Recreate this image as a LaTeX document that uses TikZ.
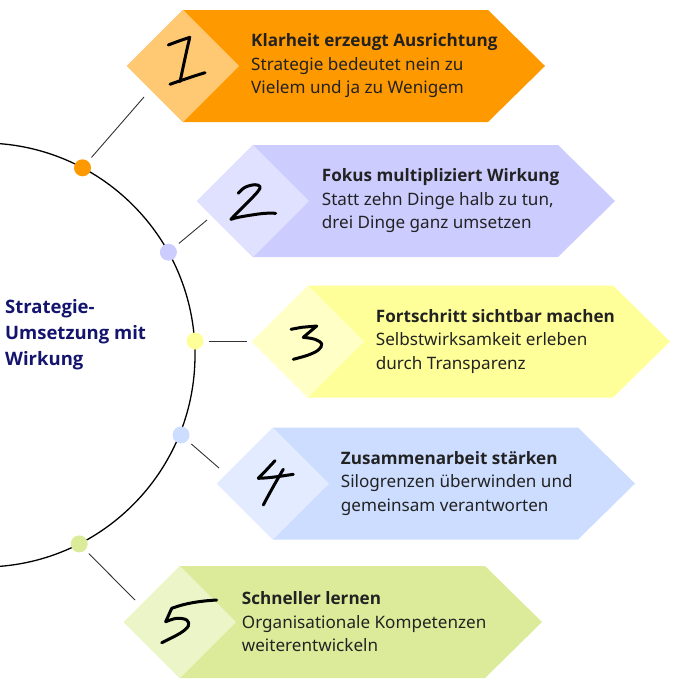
\documentclass[tikz,border=0pt]{standalone}
\usepackage{fontspec}
\setmainfont{Noto Sans}
\newfontfamily\obf{Open Sans}
\newcommand{\ttl}[1]{{\obf\bfseries #1}}
\definecolor{or1}{HTML}{FF9900}
\definecolor{or2}{HTML}{FFC873}
\definecolor{lv1}{HTML}{CCCCFF}
\definecolor{lv2}{HTML}{E0E0FF}
\definecolor{ye1}{HTML}{FFFF99}
\definecolor{ye2}{HTML}{FFFFC6}
\definecolor{bl1}{HTML}{CCDDFF}
\definecolor{bl2}{HTML}{E2EBFF}
\definecolor{gr1}{HTML}{DCEB9A}
\definecolor{gr2}{HTML}{EBF5C8}
\definecolor{navy}{HTML}{14146E}
\definecolor{txt}{HTML}{222222}
\newcommand{\hexshape}[5]{%
  \fill[#4] (#2,#3) -- ++(56,-56) -- ++(305,0) -- ++(57,56) -- ++(-57,56) -- ++(-305,0) -- cycle;
  \fill[#5] (#2,#3) -- ++(56,-56) -- ++(56,56) -- ++(-56,56) -- cycle;
  \coordinate (#1) at (#2,#3);
}
\begin{document}
\begin{tikzpicture}[x=1pt,y=-1pt,
  dotnode/.style={circle,inner sep=0pt,minimum size=17pt,fill=#1},
  conn/.style={draw=black!80,line width=0.9pt,shorten <=5pt},
  hand/.style={line width=3pt,line cap=round,line join=round,black},
  body/.style={anchor=west,align=left,text=txt,inner sep=0pt,font=\fontsize{17.1}{23.5}\selectfont},
  ring/.style={line width=1.3pt,black}]
\useasboundingbox (0,0) rectangle (700,696);
\clip (0,0) rectangle (700,696);
% ring
\coordinate (cc) at (-17,355);
\draw[ring] (cc) circle[radius=212pt];
% connector free ends
\coordinate (e1) at (144,97);
\coordinate (e2) at (207,220);
\coordinate (e3) at (247,341);
\coordinate (e4) at (219,468);
\coordinate (e5) at (135,600);
% dots
\node[dotnode=or1] (d1) at (82.5,167.8) {};
\node[dotnode=lv1] (d2) at (168.4,252.2) {};
\node[dotnode=ye1] (d3) at (195,341) {};
\node[dotnode=bl1] (d4) at (181,435) {};
\node[dotnode=gr1] (d5) at (79.2,543.9) {};
\draw[conn] (d1) -- (e1);
\draw[conn] (d2) -- (e2);
\draw[conn] (d3) -- (e3);
\draw[conn] (d4) -- (e4);
\draw[conn] (d5) -- (e5);
% shapes
\hexshape{s1}{127}{66}{or1}{or2}
\hexshape{s2}{197}{201}{lv1}{lv2}
\hexshape{s3}{252}{341.5}{ye1}{ye2}
\hexshape{s4}{217}{483.5}{bl1}{bl2}
\hexshape{s5}{124}{622}{gr1}{gr2}
% handwritten numbers
% 1
\draw[hand] (168.3,45) .. controls (176,42) and (183,39.5) .. (190,37.3);
\draw[hand] (189.5,38.5) .. controls (186,53) and (183,68) .. (180,81.7);
\draw[hand] (170,84.3) .. controls (182,80) and (194,76) .. (205,72.7);
% 2
\draw[hand] plot[smooth,tension=0.6] coordinates {(238.3,193.3) (245,187.3) (255,184.7) (260,186.7) (257.7,191.7) (248.3,201.7) (235,215) (231,219.3)};
\draw[hand] plot[smooth,tension=0.6] coordinates {(231,219.3) (238.3,217.3) (251.7,215) (265,213.3) (275.7,213.3)};
% 3
\draw[hand] (291,329.3) -- (301.7,327.3) -- (316.7,326) -- (303.3,337.3);
\draw[hand] plot[smooth,tension=0.6] coordinates {(303.3,337.3) (315,339.3) (321.7,344) (318.3,350) (308.3,355) (293.3,359.3)};
% 4
\draw[hand] (275,460.7) -- (263.3,473.3) -- (258.3,478.3) .. controls (270,478) and (282,476) .. (293.3,474.3);
\draw[hand] (283.3,469.3) .. controls (278,478) and (269,494) .. (263.3,505);
% 5
\draw[hand] (171.7,608.3) .. controls (186,603) and (200,601) .. (216.7,600);
\draw[hand] (171.7,608.3) -- (165.7,621.7);
\draw[hand] plot[smooth,tension=0.6] coordinates {(165.7,621.7) (176.7,618.3) (186.7,620) (188.3,626) (180,633.3) (161.7,642.7)};
% texts
\node[body] (t1) at (251,66) {\ttl{Klarheit erzeugt Ausrichtung}\\Strategie bedeutet nein zu\\Vielem und ja zu Wenigem};
\node[body] (t2) at (321.7,201) {\ttl{Fokus multipliziert Wirkung}\\Statt zehn Dinge halb zu tun,\\drei Dinge ganz umsetzen};
\node[body] (t3) at (375.7,341.5) {\ttl{Fortschritt sichtbar machen}\\Selbstwirksamkeit erleben\\durch Transparenz};
\node[body] (t4) at (340.7,483.5) {\ttl{Zusammenarbeit stärken}\\Silogrenzen überwinden und\\gemeinsam verantworten};
\node[body] (t5) at (241.7,622) {\ttl{Schneller lernen}\\Organisationale Kompetenzen\\weiterentwickeln};
\node[anchor=west,align=left,inner sep=0pt,text=navy,font=\obf\bfseries\fontsize{18.5}{26}\selectfont] (ctr) at (5,334.5) {Strategie-\\Umsetzung mit\\Wirkung};
\end{tikzpicture}
\end{document}
